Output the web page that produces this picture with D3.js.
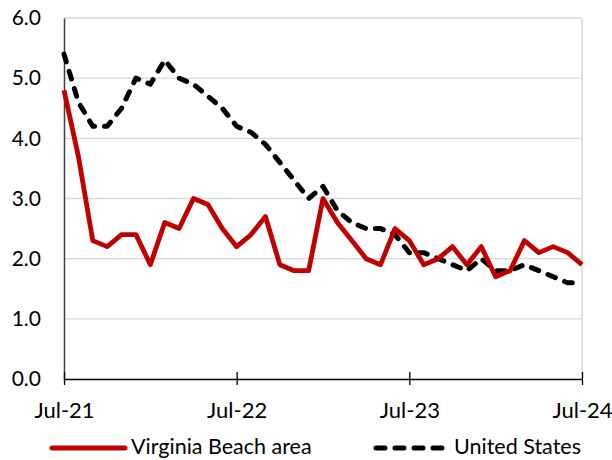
<!DOCTYPE html>
<html><head><meta charset="utf-8">
<script src="https://cdn.jsdelivr.net/npm/d3@7/dist/d3.min.js"></script>
<style>html,body{margin:0;padding:0;background:#fff;}svg{display:block;font-family:Lato,"Open Sans",sans-serif;}</style>
</head><body>
<svg id="c" width="612" height="460"></svg>
<script>
const seriesNames = ["Virginia Beach area", "United States"];
const startMonth = "2021-07";
const virginiaBeach = [4.8,3.7,2.3,2.2,2.4,2.4,1.9,2.6,2.5,3.0,2.9,2.5,2.2,2.4,2.7,1.9,1.8,1.8,3.0,2.6,2.3,2.0,1.9,2.5,2.3,1.9,2.0,2.2,1.9,2.2,1.7,1.8,2.3,2.1,2.2,2.1,1.9];
const unitedStates = [5.4,4.6,4.2,4.2,4.5,5.0,4.9,5.3,5.0,4.9,4.7,4.5,4.2,4.1,3.9,3.6,3.3,3.0,3.2,2.8,2.6,2.5,2.5,2.4,2.1,2.1,2.0,1.9,1.8,2.0,1.8,1.8,1.9,1.8,1.7,1.6,1.6];
const yTicks = [0,1,2,3,4,5,6];
const xTickLabels = ["Jul-21","Jul-22","Jul-23","Jul-24"];
const xTickIdx = [0,12,24,36];

const svg = d3.select("#c");
const L = 64, R = 582, T = 18, B = 379;
const x = d3.scaleLinear().domain([0, 36]).range([L, R]);
const y = d3.scaleLinear().domain([0, 6]).range([B, T]);

// gridlines
svg.append("g").selectAll("line").data(yTicks.filter(d => d > 0)).join("line")
  .attr("x1", L).attr("x2", R).attr("y1", d => y(d)).attr("y2", d => y(d))
  .attr("stroke", "#d9d9d9").attr("stroke-width", 1.3);
// right border
svg.append("line").attr("x1", R).attr("x2", R).attr("y1", T).attr("y2", B)
  .attr("stroke", "#d9d9d9").attr("stroke-width", 1.5);

// y axis
const yAxis = d3.axisLeft(y).tickValues(yTicks).tickFormat(d3.format(".1f")).tickSize(0).tickPadding(23);
const gy = svg.append("g").attr("transform", `translate(${L},0)`).call(yAxis);
gy.select(".domain").attr("stroke", "#404040").attr("stroke-width", 1.5);
gy.selectAll("text").attr("font-size", 21).attr("fill", "#000").attr("font-family", "Lato");

// x axis
const xAxis = d3.axisBottom(x).tickValues(xTickIdx).tickFormat((d, i) => xTickLabels[i]).tickSize(6).tickSizeOuter(0).tickPadding(17);
const gx = svg.append("g").attr("transform", `translate(0,${B})`).call(xAxis);
gx.select(".domain").attr("stroke", "#000").attr("stroke-width", 1.3);
gx.selectAll(".tick line").attr("y1", -7).attr("y2", 6).attr("stroke", "#000").attr("stroke-width", 1.3);
gx.selectAll("text").attr("font-size", 22).attr("fill", "#000").attr("font-family", "Lato");

const line = d3.line().x((d, i) => x(i)).y(d => y(d));
svg.append("path").datum(unitedStates).attr("d", line).attr("fill", "none")
  .attr("stroke", "#000").attr("stroke-width", 5).attr("stroke-dasharray", "8,10").attr("stroke-linecap", "round").attr("stroke-linejoin", "round");
svg.append("path").datum(virginiaBeach).attr("d", line).attr("fill", "none")
  .attr("stroke", "#c00000").attr("stroke-width", 4.8).attr("stroke-linejoin", "round");

// legend
const ly = 448;
const lg = svg.append("g");
lg.append("line").attr("x1", 52).attr("x2", 125).attr("y1", ly).attr("y2", ly)
  .attr("stroke", "#c00000").attr("stroke-width", 5).attr("stroke-linecap", "round");
lg.append("text").attr("x", 131).attr("y", 454).attr("font-size", 21.5).text(seriesNames[0]);
lg.append("line").attr("x1", 376).attr("x2", 446).attr("y1", ly).attr("y2", ly)
  .attr("stroke", "#000").attr("stroke-width", 5).attr("stroke-dasharray", "9,10").attr("stroke-linecap", "round");
lg.append("text").attr("x", 454).attr("y", 454).attr("font-size", 21.5).text(seriesNames[1]);
</script>
</body></html>
